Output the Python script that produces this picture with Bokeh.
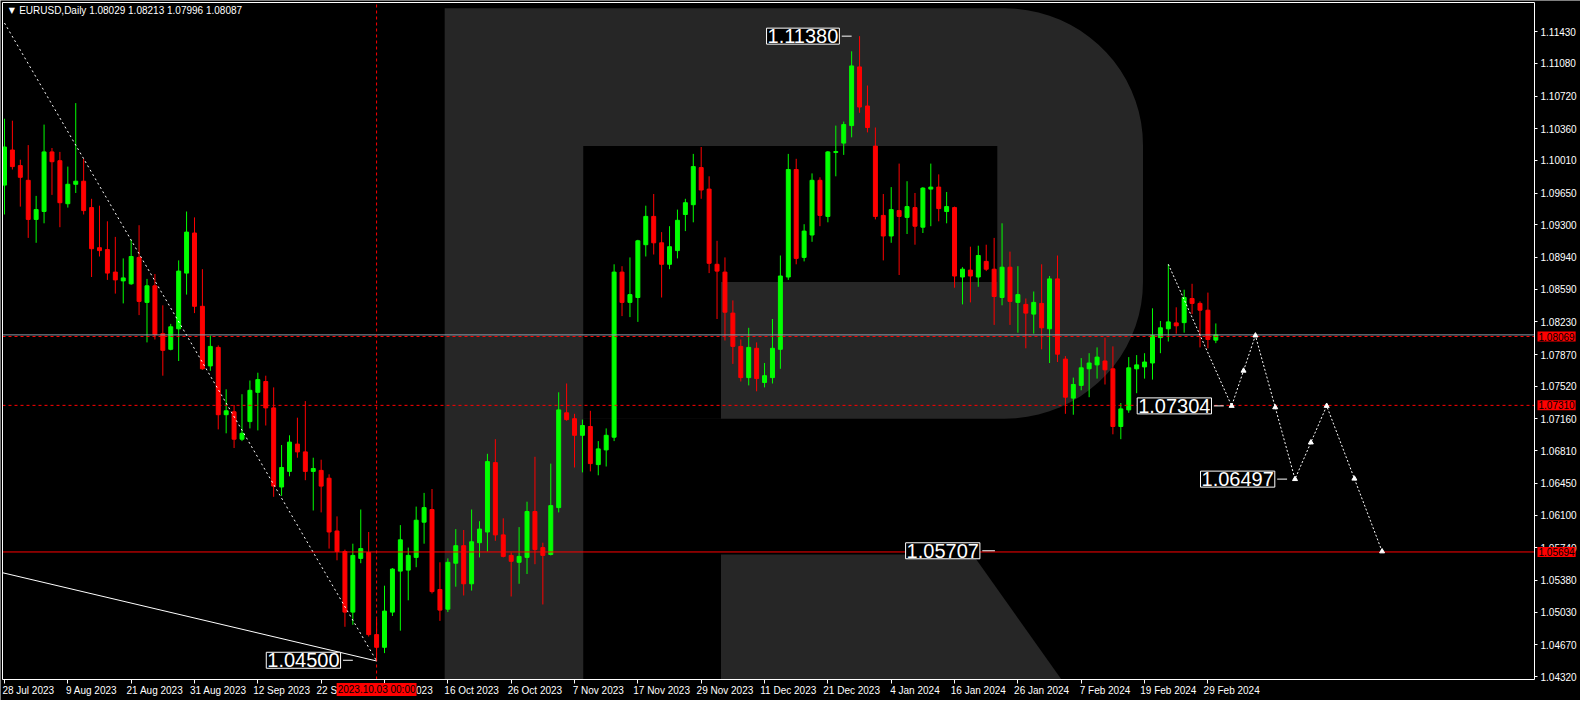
import numpy as np
from bokeh.plotting import figure
from bokeh.models import (Range1d, LinearAxis, FixedTicker, NumeralTickFormatter,
                          Label, ColumnDataSource)
from bokeh.embed import file_html
from bokeh.resources import INLINE

# ---------------- data ----------------
symbol_text = "EURUSD,Daily  1.08029 1.08213 1.07996 1.08087"

opens = [1.09738, 1.10125, 1.09953, 1.09791, 1.09360, 1.09447, 1.10104, 1.10007, 1.09533, 1.09747,
         1.09781, 1.09490, 1.09048, 1.09027, 1.08779, 1.08682, 1.08650, 1.08941, 1.08445, 1.08628,
         1.08100, 1.07928, 1.08154, 1.08768, 1.09210, 1.08402, 1.07745, 1.07949, 1.07207, 1.07239,
         1.06937, 1.07131, 1.07454, 1.07573, 1.07282, 1.06410, 1.06582, 1.06883, 1.06797, 1.06582,
         1.06593, 1.06507, 1.05925, 1.05699, 1.05031, 1.05623, 1.05688, 1.04783, 1.04643, 1.05031,
         1.05483, 1.05494, 1.05634, 1.06022, 1.06162, 1.05280, 1.05063, 1.05570, 1.05763, 1.05343,
         1.05796, 1.05914, 1.06679, 1.05882, 1.05656, 1.05580, 1.05634, 1.06140, 1.05742, 1.05666,
         1.06183, 1.07228, 1.07163, 1.06980, 1.07077, 1.06657, 1.06819, 1.06959, 1.08779, 1.08445,
         1.08499, 1.09081, 1.09393, 1.09102, 1.08865, 1.09016, 1.09414, 1.09522, 1.09931, 1.09694,
         1.08865, 1.08779, 1.08327, 1.07960, 1.07616, 1.07939, 1.07562, 1.07616, 1.07928, 1.08725,
         1.09910, 1.08941, 1.09188, 1.09791, 1.09393, 1.10098, 1.10201, 1.10394, 1.11041, 1.10610,
         1.10168, 1.09404, 1.09177, 1.09457, 1.09382, 1.09490, 1.09274, 1.09694, 1.09716, 1.09447,
         1.09490, 1.08725, 1.08801, 1.08725, 1.08897, 1.08811, 1.08499, 1.08833, 1.08445, 1.08423,
         1.08316, 1.08434, 1.08154, 1.08704, 1.07820, 1.07390, 1.07530, 1.07713, 1.07756, 1.07799,
         1.07713, 1.07077, 1.07260, 1.07713, 1.07734, 1.07777, 1.08057, 1.08154, 1.08219, 1.08222,
         1.08488, 1.08434, 1.08359, 1.08029]
highs = [1.10470, 1.10448, 1.10018, 1.10179, 1.09619, 1.10405, 1.10147, 1.10104, 1.09942, 1.10642,
         1.10028, 1.09587, 1.09511, 1.09339, 1.09167, 1.08930, 1.09135, 1.09296, 1.08704, 1.08758,
         1.08413, 1.08208, 1.08908, 1.09447, 1.09382, 1.08811, 1.08079, 1.07971, 1.07487, 1.07314,
         1.07433, 1.07584, 1.07670, 1.07637, 1.07508, 1.06873, 1.06980, 1.07174, 1.07357, 1.06733,
         1.06711, 1.06550, 1.06086, 1.05720, 1.05785, 1.06162, 1.05914, 1.04956, 1.05322, 1.05516,
         1.05990, 1.05742, 1.06194, 1.06345, 1.06388, 1.05580, 1.05623, 1.05946, 1.05936, 1.06162,
         1.06033, 1.06776, 1.06937, 1.06065, 1.05688, 1.05968, 1.06248, 1.06743, 1.05796, 1.06668,
         1.07454, 1.07551, 1.07217, 1.07153, 1.07250, 1.06916, 1.07056, 1.08865, 1.08844, 1.08941,
         1.09135, 1.09511, 1.09640, 1.09220, 1.09285, 1.09468, 1.09587, 1.10082, 1.10158, 1.09835,
         1.09124, 1.08941, 1.08467, 1.08036, 1.08165, 1.08004, 1.07777, 1.08262, 1.08962, 1.10082,
         1.10028, 1.09307, 1.09867, 1.09824, 1.10114, 1.10394, 1.10438, 1.11213, 1.11380, 1.10836,
         1.10373, 1.09640, 1.09716, 1.09975, 1.09781, 1.09651, 1.09716, 1.09975, 1.09856, 1.09662,
         1.09501, 1.08833, 1.09059, 1.09070, 1.09081, 1.09156, 1.09317, 1.09005, 1.08844, 1.08488,
         1.08565, 1.08865, 1.08736, 1.08962, 1.07853, 1.07616, 1.07831, 1.07885, 1.07949, 1.08057,
         1.07960, 1.07336, 1.07842, 1.07864, 1.07885, 1.08380, 1.08240, 1.08865, 1.08391, 1.08585,
         1.08650, 1.08456, 1.08553, 1.08213]
lows = [1.09414, 1.09910, 1.09501, 1.09156, 1.09102, 1.09317, 1.09630, 1.09274, 1.09490, 1.09651,
        1.09414, 1.08725, 1.08951, 1.08693, 1.08542, 1.08434, 1.08639, 1.08305, 1.08004, 1.08036,
        1.07637, 1.07917, 1.07799, 1.08531, 1.08327, 1.07702, 1.07691, 1.07045, 1.07002, 1.06840,
        1.06916, 1.07056, 1.07034, 1.07088, 1.06302, 1.06313, 1.06528, 1.06733, 1.06485, 1.06151,
        1.06130, 1.05731, 1.05602, 1.04869, 1.04891, 1.05570, 1.04762, 1.04492, 1.04579, 1.04988,
        1.04826, 1.05161, 1.05526, 1.05785, 1.05236, 1.04934, 1.05031, 1.05311, 1.05214, 1.05268,
        1.05634, 1.05699, 1.05817, 1.05634, 1.05203, 1.05343, 1.05451, 1.05559, 1.05115, 1.05656,
        1.06130, 1.07140, 1.06625, 1.06571, 1.06582, 1.06539, 1.06636, 1.06916, 1.08294, 1.08283,
        1.08230, 1.08951, 1.08973, 1.08499, 1.08811, 1.08930, 1.09231, 1.09328, 1.09587, 1.08768,
        1.08262, 1.08025, 1.07767, 1.07573, 1.07530, 1.07465, 1.07508, 1.07551, 1.07713, 1.08693,
        1.08865, 1.08897, 1.09113, 1.09285, 1.09328, 1.09835, 1.10071, 1.10265, 1.10535, 1.10319,
        1.09360, 1.08908, 1.09102, 1.08747, 1.09199, 1.09081, 1.09210, 1.09285, 1.09339, 1.09317,
        1.08607, 1.08423, 1.08445, 1.08617, 1.08790, 1.08197, 1.08413, 1.08197, 1.08111, 1.07939,
        1.08100, 1.07928, 1.07777, 1.07788, 1.07217, 1.07207, 1.07476, 1.07400, 1.07605, 1.07540,
        1.06991, 1.06937, 1.07228, 1.07444, 1.07605, 1.07594, 1.07885, 1.08014, 1.08100, 1.08111,
        1.08316, 1.07949, 1.07939, 1.07996]
closes = [1.10158, 1.09942, 1.09824, 1.09360, 1.09468, 1.10104, 1.09996, 1.09544, 1.09747, 1.09781,
          1.09457, 1.09037, 1.09016, 1.08768, 1.08693, 1.08715, 1.08951, 1.08456, 1.08628, 1.08090,
          1.07917, 1.08176, 1.08790, 1.09220, 1.08402, 1.07713, 1.07960, 1.07207, 1.07250, 1.06937,
          1.07002, 1.07476, 1.07594, 1.07282, 1.06420, 1.06625, 1.06905, 1.06797, 1.06582, 1.06614,
          1.06420, 1.05914, 1.05699, 1.05031, 1.05656, 1.05731, 1.04783, 1.04643, 1.05042, 1.05505,
          1.05828, 1.05656, 1.06044, 1.06183, 1.05257, 1.05053, 1.05580, 1.05763, 1.05343, 1.05806,
          1.05946, 1.06690, 1.05882, 1.05645, 1.05591, 1.05645, 1.06140, 1.05720, 1.05656, 1.06205,
          1.07260, 1.07153, 1.06980, 1.07088, 1.06668, 1.06830, 1.06980, 1.08779, 1.08445, 1.08531,
          1.09124, 1.09393, 1.09102, 1.08865, 1.09059, 1.09350, 1.09544, 1.09942, 1.09684, 1.08876,
          1.08790, 1.08337, 1.07960, 1.07616, 1.07949, 1.07605, 1.07637, 1.07939, 1.08736, 1.09910,
          1.08930, 1.09231, 1.09791, 1.09404, 1.10104, 1.10108, 1.10405, 1.11052, 1.10599, 1.10373,
          1.09393, 1.09177, 1.09468, 1.09393, 1.09501, 1.09285, 1.09705, 1.09716, 1.09479, 1.09501,
          1.08736, 1.08811, 1.08736, 1.08962, 1.08811, 1.08510, 1.08833, 1.08456, 1.08531, 1.08327,
          1.08445, 1.08165, 1.08704, 1.07874, 1.07400, 1.07540, 1.07724, 1.07777, 1.07842, 1.07702,
          1.07077, 1.07271, 1.07724, 1.07756, 1.07788, 1.08079, 1.08165, 1.08230, 1.08187, 1.08499,
          1.08434, 1.08359, 1.08036, 1.08087]

date_ticks = [0, 8, 16, 24, 32, 40, 48, 56, 64, 72, 80, 88, 96, 104, 112, 120, 128, 136, 144, 152]
date_labels = ["28 Jul 2023", "9 Aug 2023", "21 Aug 2023", "31 Aug 2023", "12 Sep 2023",
               "22 Sep 2023", "4 Oct 2023", "16 Oct 2023", "26 Oct 2023", "7 Nov 2023",
               "17 Nov 2023", "29 Nov 2023", "11 Dec 2023", "21 Dec 2023", "4 Jan 2024",
               "16 Jan 2024", "26 Jan 2024", "7 Feb 2024", "19 Feb 2024", "29 Feb 2024"]

price_ticks = [1.0432, 1.0467, 1.0503, 1.0538, 1.0574, 1.0610, 1.0645, 1.0681, 1.0716, 1.0752,
               1.0787, 1.0823, 1.0859, 1.0894, 1.0930, 1.0965, 1.1001, 1.1036, 1.1072, 1.1108, 1.1143]

bid_price = 1.08087
dashed_levels = [1.08069, 1.07310]
solid_level = 1.05694
axis_tags = [("1.08069", 1.08069), ("1.07310", 1.07310), ("1.05694", 1.05694)]
cursor_bar = 47
cursor_text = "2023.10.03 00:00"

# drawn trend lines (bar index, price)
down_dash_idx = [0, 47]
down_dash_price = [1.11525, 1.04492]
trend_idx = [-0.25, 47]
trend_price = [1.05465, 1.04492]

# forecast path
fc_idx = [147, 155, 158, 163, 167, 174]
fc_price = [1.08865, 1.07304, 1.08080, 1.06497, 1.07304, 1.05700]

# boxed price labels: text, right edge (bar), price, pointer end (bar)
box_text = ["1.11380", "1.07304", "1.06497", "1.05707", "1.04500"]
box_right = [105.75, 152.75, 160.75, 123.5, 42.75]
box_price = [1.11380, 1.07304, 1.06497, 1.05707, 1.04500]
box_tip = [107.0, 154.0, 162.0, 125.1, 44.0]

# ---------------- figure geometry ----------------
X0, X1 = -0.25, 193.25          # chart area in bars
Y0, Y1 = 1.04288, 1.11751       # chart area in price
CW, CH = 1580, 700
ML, MR, MT, MB = 2, 46, 2, 21   # pixel margins around the chart area
xs = (X1 - X0) / (CW - ML - MR)
ys = (Y1 - Y0) / (CH - MT - MB)
FONT = "Liberation Sans"

p = figure(width=CW, height=CH, output_backend="svg", toolbar_location=None,
           x_range=Range1d(X0 - ML * xs, X1 + MR * xs),
           y_range=Range1d(Y0 - MB * ys, Y1 + MT * ys),
           x_axis_location=None, y_axis_location=None, min_border=0)
for g in list(p.center):
    g.visible = False
p.background_fill_color = "black"
p.border_fill_color = "black"
p.outline_line_color = None

# ---- watermark logo (R) ----
gray = "#262626"
rx, ry = 17.5, 0.01508
cx = 143.8 - rx
t1 = np.linspace(np.pi / 2, 0, 20)
t2 = np.linspace(0, -np.pi / 2, 20)
ax = list(cx + rx * np.cos(t1)) + list(cx + rx * np.cos(t2))
ay = list(1.10179 + ry * np.sin(t1)) + list(1.08671 + ry * np.sin(t2))
outer_x = [55.6, 55.6] + ax + [73.1, 73.1]
outer_y = [Y0, 1.11687] + ay + [1.07163, Y0]
p.patch(outer_x, outer_y, fill_color=gray, line_color=None)
hole_x = [73.1, 125.4, 125.4, 90.5, 90.5, 73.1]
hole_y = [1.10168, 1.10168, 1.08671, 1.08671, 1.07163, 1.07163]
p.patch(hole_x, hole_y, fill_color="black", line_color=None)
leg_x = [90.5, 122.3, 133.5, 90.5]
leg_y = [1.05666, 1.05666, Y0, Y0]
p.patch(leg_x, leg_y, fill_color=gray, line_color=None)

# ---- candles ----
o = np.array(opens)
c = np.array(closes)
idx = np.arange(len(o))
cols = np.where(c >= o, "#00ff00", "#ff0000")
src = ColumnDataSource(dict(x=idx, h=highs, l=lows, top=np.maximum(o, c),
                            bottom=np.minimum(o, c), color=cols))
p.segment(x0="x", y0="h", x1="x", y1="l", line_color="color", line_width=1, source=src)
p.vbar(x="x", width=0.5, top="top", bottom="bottom", fill_color="color",
       line_color="color", line_width=1, source=src)

# ---- horizontal / vertical levels (limited to the chart area) ----
p.segment(x0=[X0], y0=[bid_price], x1=[X1], y1=[bid_price], line_color="#8f9aa8", line_width=1)
p.segment(x0=[X0] * len(dashed_levels), y0=dashed_levels, x1=[X1] * len(dashed_levels),
          y1=dashed_levels, line_color="#ff0000", line_width=1, line_dash="3 3")
p.segment(x0=[X0], y0=[solid_level], x1=[X1], y1=[solid_level], line_color="#ff0000", line_width=1)
p.segment(x0=[cursor_bar], y0=[Y0], x1=[cursor_bar], y1=[Y1], line_color="#ff0000",
          line_width=1, line_dash="3 3")

# ---- drawn lines ----
p.line(down_dash_idx, down_dash_price, line_color="white", line_width=1, line_dash="2 3")
p.line(trend_idx, trend_price, line_color="white", line_width=1)
p.line(fc_idx, fc_price, line_color="white", line_width=1, line_dash="2 2")
fx = np.array(fc_idx, dtype=float)
fy = np.array(fc_price)
mid_x = (fx[1:-1] + fx[2:]) / 2
mid_y = (fy[1:-1] + fy[2:]) / 2
p.scatter(list(fx[1:]) + list(mid_x), list(fy[1:]) + list(mid_y), marker="triangle",
          size=5, fill_color="white", line_color="white")

# ---- boxed labels ----
for txt, xr, pr, tip in zip(box_text, box_right, box_price, box_tip):
    p.segment(x0=[xr], y0=[pr], x1=[tip], y1=[pr], line_color="white", line_width=1)
    p.add_layout(Label(x=xr - 0.3, y=pr, text=txt, text_align="right", text_baseline="middle",
                       text_color="white", text_font=FONT, text_font_size="20px",
                       background_fill_color="black", border_line_color="white",
                       border_line_width=1, padding=1))

# ---- chart border (left / top); right and bottom come from the axes ----
p.line([X0, X0, X1], [Y0, Y1, Y1], line_color="white", line_width=1)

# ---- header ----
p.add_layout(Label(x=0.55, y=Y1 - 8 * ys, text="\u25bc", text_align="left", text_baseline="middle",
                   text_color="white", text_font="DejaVu Sans", text_font_size="8px"))
p.add_layout(Label(x=1.85, y=Y1 - 8 * ys, text=symbol_text, text_align="left", text_baseline="middle",
                   text_color="white", text_font=FONT, text_font_size="10px"))

# ---- axes (placed on the chart-area edges) ----
yax = LinearAxis(ticker=FixedTicker(ticks=price_ticks),
                 formatter=NumeralTickFormatter(format="0.00000"),
                 fixed_location=X1, bounds=(Y0, Y1))
yax.axis_line_color = "white"
yax.major_tick_line_color = "white"
yax.major_tick_in = 0
yax.major_tick_out = 3
yax.minor_tick_line_color = None
yax.major_label_text_color = "white"
yax.major_label_text_font = FONT
yax.major_label_text_font_size = "10px"
yax.major_label_standoff = 3
p.add_layout(yax, "right")

xax = LinearAxis(ticker=FixedTicker(ticks=[t + 3 for t in date_ticks], minor_ticks=date_ticks),
                 fixed_location=Y0, bounds=(X0, X1))
xax.major_label_overrides = {t + 3: lab for t, lab in zip(date_ticks, date_labels)}
xax.axis_line_color = "white"
xax.major_tick_line_color = None
xax.major_tick_out = 4
xax.major_tick_in = 0
xax.minor_tick_line_color = "white"
xax.minor_tick_out = 4
xax.minor_tick_in = 0
xax.major_label_text_color = "white"
xax.major_label_text_font = FONT
xax.major_label_text_font_size = "10px"
xax.major_label_standoff = 1
p.add_layout(xax, "below")

# ---- axis tags ----
for txt, pr in axis_tags:
    p.add_layout(Label(x=X1 + 3 * xs, y=pr, text=txt, text_align="left", text_baseline="middle",
                       text_color="black", text_font=FONT, text_font_size="10px",
                       background_fill_color="#ff0000", padding=1))
p.add_layout(Label(x=cursor_bar, y=Y0 - 10 * ys, text=cursor_text, text_align="center",
                   text_baseline="middle", text_color="black", text_font=FONT,
                   text_font_size="10px", background_fill_color="#ff0000", padding=1))

open("out.html", "w").write(file_html(p, INLINE))
